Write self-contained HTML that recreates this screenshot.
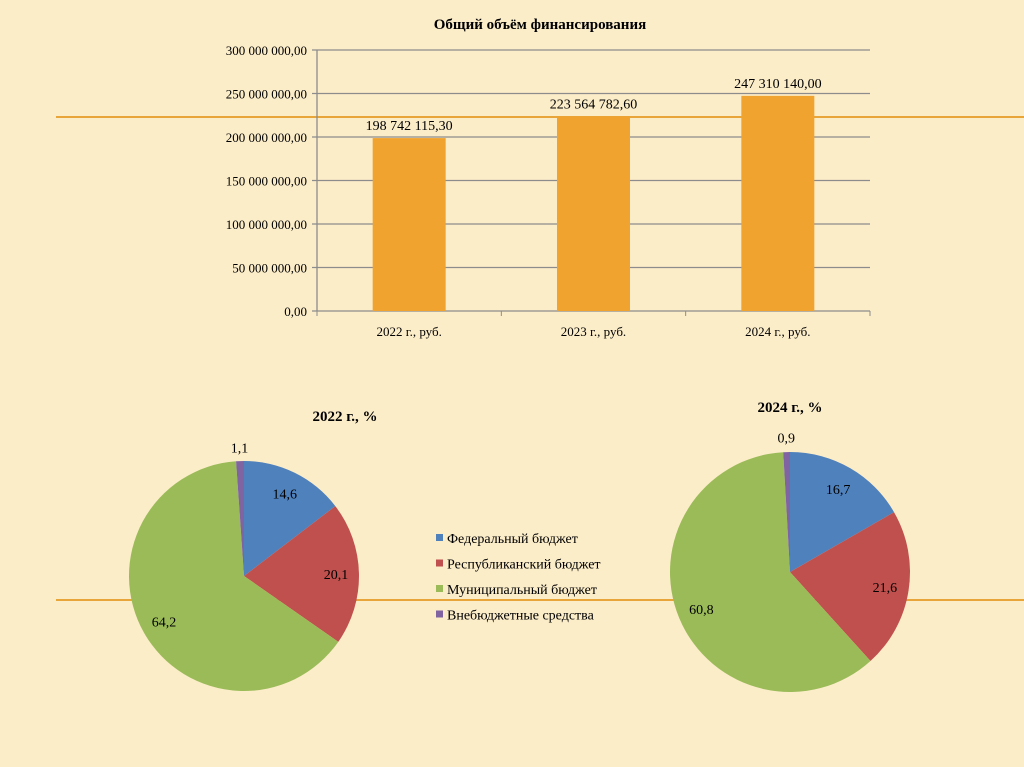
<!DOCTYPE html>
<html><head><meta charset="utf-8"><style>
body{margin:0;background:#fcedc9;}
svg{display:block;font-family:"Liberation Serif","Noto Serif CJK SC",serif;}
</style></head><body>
<svg id="s" width="1024" height="767" viewBox="0 0 1024 767">
<rect x="0" y="0" width="1024" height="767" fill="#fcedc9"/>
<line x1="56" y1="117" x2="1024" y2="117" stroke="#e8a53a" stroke-width="2"/>
<line x1="56" y1="600" x2="1024" y2="600" stroke="#e8a53a" stroke-width="2"/>
<text x="540" y="29" text-anchor="middle" font-size="15" font-weight="bold">Общий объём финансирования</text>
<g id="bars"></g>
<text x="345" y="421" text-anchor="middle" font-size="15" font-weight="bold">2022 г., %</text>
<text x="790" y="412" text-anchor="middle" font-size="15" font-weight="bold">2024 г., %</text>
<g id="pies"></g>
<g id="legend"></g>
</svg>
<script>
const barCats=["2022 г., руб.","2023 г., руб.","2024 г., руб."];
const barVals=[198742115.30,223564782.60,247310140.00];
const barLabels=["198 742 115,30","223 564 782,60","247 310 140,00"];
const yTicks=[0,50000000,100000000,150000000,200000000,250000000,300000000];
const yTickLabels=["0,00","50 000 000,00","100 000 000,00","150 000 000,00","200 000 000,00","250 000 000,00","300 000 000,00"];
const pieCats=["Федеральный бюджет","Республиканский бюджет","Муниципальный бюджет","Внебюджетные средства"];
const pie2022=[14.6,20.1,64.2,1.1];
const pie2024=[16.7,21.6,60.8,0.9];
const pieLabels2022=["14,6","20,1","64,2","1,1"];
const pieLabels2024=["16,7","21,6","60,8","0,9"];
const colors=["#4f81bd","#c0504d","#9bbb59","#8064a2"];
const NS="http://www.w3.org/2000/svg";
function mk(t,a,p){const e=document.createElementNS(NS,t);for(const k in a)e.setAttribute(k,a[k]);p.appendChild(e);return e;}
const X0=317,X1=870,Y0=311,Y1=50,yMax=300000000;
const y=v=>Y0-(v/yMax)*(Y0-Y1);
const band=(X1-X0)/barCats.length;
const bx=i=>X0+band*(i+0.5);
const g=document.getElementById('bars');
yTicks.forEach((t,i)=>{
 const l=mk('line',{x1:X0-5,x2:X1,y1:y(t),y2:y(t),stroke:'#8c8c8c','stroke-width':1.3},g);
 
 
 const tx=mk('text',{x:X0-10,y:y(t)+5,'text-anchor':'end','font-size':13},g);tx.textContent=yTickLabels[i];
 
 
});
mk('line',{x1:X0,x2:X0,y1:Y1,y2:Y0,stroke:'#8c8c8c','stroke-width':1.3},g);
for(let i=0;i<=barCats.length;i++){mk('line',{x1:X0+band*i,x2:X0+band*i,y1:Y0,y2:Y0+5,stroke:'#8c8c8c'},g);}
barCats.forEach((c,i)=>{
 const r=mk('rect',{x:bx(i)-36.5,y:y(barVals[i]),width:73,height:Y0-y(barVals[i]),fill:'#f0a32f'},g);
 
 
 const v=mk('text',{x:bx(i),y:y(barVals[i])-8,'text-anchor':'middle','font-size':14},g);v.textContent=barLabels[i];
 
 
 const t=mk('text',{x:bx(i),y:Y0+25,'text-anchor':'middle','font-size':13},g);t.textContent=c;
 
 
});
const pg=document.getElementById('pies');
function pie(vals,labels,cx,cy,r,name){
 const tot=vals.reduce((a,b)=>a+b,0);let a=0;
 vals.forEach((v,i)=>{
  const a0=a/tot*2*Math.PI,a1=(a+v)/tot*2*Math.PI;a+=v;
  const p=[cx+r*Math.sin(a0),cy-r*Math.cos(a0),cx+r*Math.sin(a1),cy-r*Math.cos(a1)];
  const s=mk('path',{d:`M${cx},${cy}L${p[0]},${p[1]}A${r},${r} 0 ${a1-a0>Math.PI?1:0} 1 ${p[2]},${p[3]}Z`,fill:colors[i]},pg);
  
  
  const m=(a0+a1)/2,k=i==3?1.12:0.8;
  const t=mk('text',{x:cx+r*k*Math.sin(m),y:cy-r*k*Math.cos(m)+5,'text-anchor':'middle','font-size':14},pg);t.textContent=labels[i];
  
  
 });
}
pie(pie2022,pieLabels2022,244,576,115,'pie-2022');
pie(pie2024,pieLabels2024,790,572,120,'pie-2024');
const lg=document.getElementById('legend');
pieCats.forEach((c,i)=>{
 const yy=543+i*25.5;
 mk('rect',{x:436,y:yy-9,width:7,height:7,fill:colors[i]},lg);
 const t=mk('text',{x:447,y:yy,'font-size':14},lg);t.textContent=c;
 
 
});
</script>
</body></html>
